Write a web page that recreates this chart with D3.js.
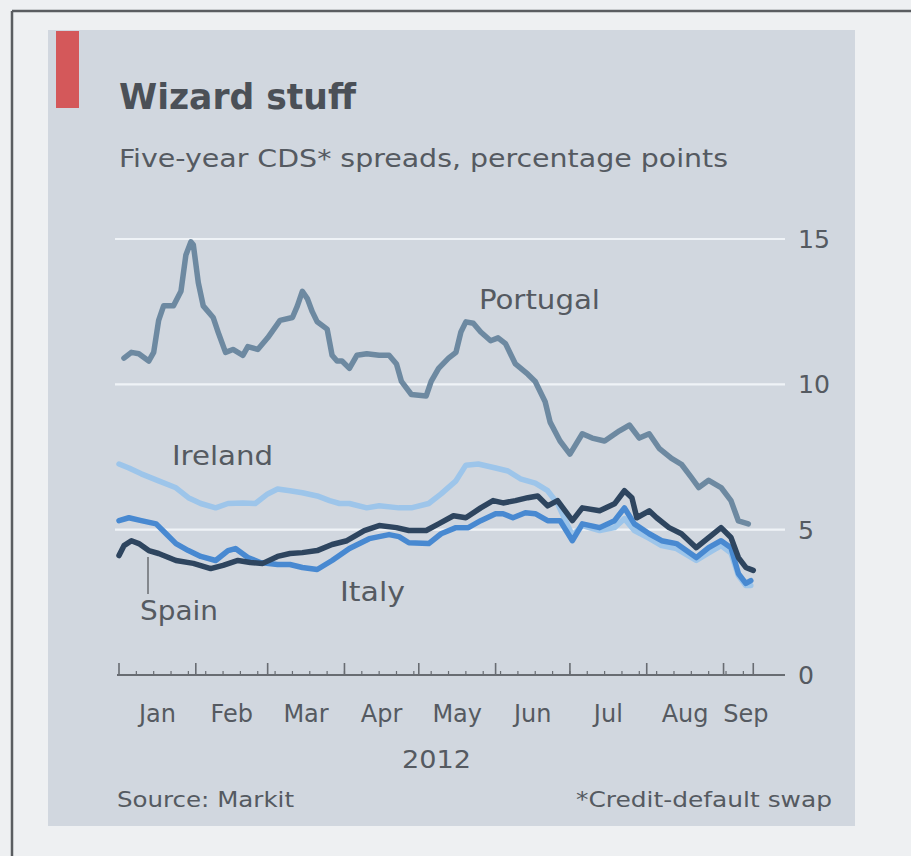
<!DOCTYPE html>
<html>
<head>
<meta charset="utf-8">
<script src="https://cdn.jsdelivr.net/npm/d3@7"></script>
<style>
  html, body { margin: 0; padding: 0; background: #eef0f2; }
  svg { display: block; }
  text { font-family: "DejaVu Sans Condensed", "DejaVu Sans", sans-serif; }
</style>
</head>
<body>
<svg id="chart" width="911" height="856"></svg>
<script>
// ---------- data ----------
const portugal = [
  ["2012-01-03",10.9],["2012-01-06",11.1],["2012-01-09",11.05],["2012-01-13",10.8],["2012-01-15",11.1],
  ["2012-01-17",12.2],["2012-01-19",12.7],["2012-01-23",12.7],["2012-01-26",13.2],["2012-01-28",14.45],
  ["2012-01-30",14.9],["2012-01-31",14.8],["2012-02-02",13.5],["2012-02-04",12.7],["2012-02-08",12.3],
  ["2012-02-10",11.8],["2012-02-13",11.1],["2012-02-16",11.2],["2012-02-20",11.0],["2012-02-22",11.3],
  ["2012-02-26",11.2],["2012-03-01",11.6],["2012-03-06",12.2],["2012-03-11",12.3],["2012-03-13",12.7],
  ["2012-03-15",13.2],["2012-03-17",12.95],["2012-03-19",12.5],["2012-03-21",12.15],["2012-03-25",11.9],
  ["2012-03-27",11.0],["2012-03-29",10.8],["2012-03-31",10.8],["2012-04-03",10.55],["2012-04-06",11.0],
  ["2012-04-10",11.05],["2012-04-15",11.0],["2012-04-19",11.0],["2012-04-22",10.7],["2012-04-24",10.1],
  ["2012-04-28",9.65],["2012-05-04",9.6],["2012-05-06",10.1],["2012-05-09",10.55],["2012-05-13",10.9],
  ["2012-05-16",11.1],["2012-05-18",11.8],["2012-05-20",12.15],["2012-05-23",12.1],["2012-05-26",11.8],
  ["2012-05-30",11.5],["2012-06-02",11.6],["2012-06-05",11.4],["2012-06-09",10.7],["2012-06-14",10.35],
  ["2012-06-17",10.1],["2012-06-21",9.4],["2012-06-23",8.7],["2012-06-27",8.05],["2012-07-01",7.6],
  ["2012-07-06",8.3],["2012-07-10",8.15],["2012-07-15",8.05],["2012-07-21",8.4],["2012-07-25",8.6],
  ["2012-07-29",8.15],["2012-08-02",8.3],["2012-08-06",7.8],["2012-08-11",7.45],["2012-08-15",7.25],
  ["2012-08-19",6.8],["2012-08-22",6.45],["2012-08-26",6.7],["2012-08-31",6.45],["2012-09-04",6.0],
  ["2012-09-07",5.3],["2012-09-11",5.2]
];
const ireland = [
  ["2012-01-01",7.26],["2012-01-05",7.12],["2012-01-10",6.92],["2012-01-17",6.68],["2012-01-24",6.44],
  ["2012-01-29",6.1],["2012-02-03",5.9],["2012-02-09",5.75],["2012-02-14",5.9],["2012-02-20",5.92],
  ["2012-02-25",5.9],["2012-03-01",6.23],["2012-03-05",6.4],["2012-03-10",6.34],["2012-03-15",6.27],
  ["2012-03-21",6.16],["2012-03-26",6.0],["2012-03-30",5.9],["2012-04-03",5.9],["2012-04-10",5.75],
  ["2012-04-15",5.82],["2012-04-23",5.75],["2012-04-28",5.75],["2012-05-05",5.9],["2012-05-10",6.23],
  ["2012-05-16",6.68],["2012-05-20",7.22],["2012-05-25",7.26],["2012-06-01",7.12],["2012-06-06",7.02],
  ["2012-06-11",6.75],["2012-06-17",6.6],["2012-06-22",6.34],["2012-06-26",5.9],["2012-07-02",4.8],
  ["2012-07-06",5.14],["2012-07-13",4.97],["2012-07-19",5.07],["2012-07-23",5.38],["2012-07-27",4.97],
  ["2012-08-02",4.7],["2012-08-07",4.45],["2012-08-13",4.35],["2012-08-21",3.94],["2012-08-26",4.2],
  ["2012-08-31",4.45],["2012-09-04",4.2],["2012-09-07",3.42],["2012-09-10",3.08],["2012-09-12",3.08]
];
const italy = [
  ["2012-01-01",5.31],["2012-01-05",5.41],["2012-01-10",5.31],["2012-01-16",5.2],["2012-01-20",4.86],
  ["2012-01-24",4.52],["2012-01-29",4.28],["2012-02-03",4.08],["2012-02-09",3.94],["2012-02-14",4.28],
  ["2012-02-17",4.35],["2012-02-22",4.04],["2012-02-27",3.87],["2012-03-05",3.8],["2012-03-10",3.8],
  ["2012-03-15",3.7],["2012-03-21",3.63],["2012-03-27",3.94],["2012-04-03",4.35],["2012-04-11",4.69],
  ["2012-04-19",4.83],["2012-04-23",4.76],["2012-04-27",4.55],["2012-05-05",4.52],["2012-05-10",4.86],
  ["2012-05-16",5.07],["2012-05-21",5.07],["2012-05-26",5.31],["2012-06-01",5.55],["2012-06-04",5.55],
  ["2012-06-08",5.41],["2012-06-13",5.58],["2012-06-17",5.55],["2012-06-22",5.31],["2012-06-27",5.31],
  ["2012-07-02",4.62],["2012-07-06",5.2],["2012-07-13",5.07],["2012-07-19",5.31],["2012-07-23",5.75],
  ["2012-07-27",5.2],["2012-08-02",4.86],["2012-08-07",4.62],["2012-08-13",4.52],["2012-08-21",4.04],
  ["2012-08-26",4.38],["2012-08-31",4.62],["2012-09-04",4.38],["2012-09-07",3.49],["2012-09-10",3.15],
  ["2012-09-12",3.25]
];
const spain = [
  ["2012-01-01",4.11],["2012-01-03",4.45],["2012-01-06",4.62],["2012-01-09",4.52],["2012-01-13",4.28],
  ["2012-01-17",4.18],["2012-01-24",3.94],["2012-01-31",3.84],["2012-02-07",3.66],["2012-02-12",3.77],
  ["2012-02-18",3.94],["2012-02-23",3.87],["2012-02-28",3.84],["2012-03-05",4.08],["2012-03-10",4.18],
  ["2012-03-15",4.21],["2012-03-21",4.28],["2012-03-27",4.49],["2012-04-02",4.62],["2012-04-09",4.97],
  ["2012-04-15",5.14],["2012-04-22",5.07],["2012-04-27",4.97],["2012-05-04",4.97],["2012-05-09",5.2],
  ["2012-05-15",5.48],["2012-05-20",5.41],["2012-05-26",5.75],["2012-05-31",6.0],["2012-06-04",5.92],
  ["2012-06-09",6.0],["2012-06-14",6.1],["2012-06-18",6.16],["2012-06-22",5.82],["2012-06-26",6.0],
  ["2012-07-02",5.31],["2012-07-06",5.75],["2012-07-13",5.65],["2012-07-19",5.89],["2012-07-23",6.34],
  ["2012-07-26",6.1],["2012-07-28",5.41],["2012-08-02",5.65],["2012-08-05",5.41],["2012-08-10",5.07],
  ["2012-08-15",4.86],["2012-08-21",4.38],["2012-08-26",4.73],["2012-08-31",5.07],["2012-09-04",4.73],
  ["2012-09-07",4.04],["2012-09-10",3.7],["2012-09-13",3.6]
];
const yTicks = [0, 5, 10, 15];
const monthLabels = ["Jan","Feb","Mar","Apr","May","Jun","Jul","Aug","Sep"];
const yearLabel = "2012";
const titleText = "Wizard stuff";
const subtitleText = "Five-year CDS* spreads, percentage points";
const sourceText = "Source: Markit";
const noteText = "*Credit-default swap";

// ---------- drawing ----------
const parse = d3.timeParse("%Y-%m-%d");
const svg = d3.select("#chart");

// page frame + panel
svg.append("rect").attr("x",0).attr("y",0).attr("width",911).attr("height",856).attr("fill","#eef0f2");
svg.append("rect").attr("x",48).attr("y",30).attr("width",807).attr("height",796).attr("fill","#d1d7df");
svg.append("line").attr("x1",12).attr("x2",911).attr("y1",11).attr("y2",11).attr("stroke","#5a5d61").attr("stroke-width",2.5);
svg.append("line").attr("x1",12).attr("x2",12).attr("y1",11).attr("y2",856).attr("stroke","#5a5d61").attr("stroke-width",2.5);
svg.append("rect").attr("x",56).attr("y",31).attr("width",23).attr("height",77).attr("fill","#d4585a");

const x = d3.scaleTime().domain([parse("2012-01-01"), parse("2012-09-25")]).range([119, 783]);
const y = d3.scaleLinear().domain([0, 15]).range([675, 239]);

const textCol = "#555a61";
function fitText(sel, w){ sel.attr("textLength", w).attr("lengthAdjust","spacingAndGlyphs"); return sel; }

// title / subtitle
fitText(svg.append("text").attr("x",119).attr("y",109).attr("font-size",36).attr("font-weight","bold")
  .attr("fill","#4b5057").text(titleText), 237);
fitText(svg.append("text").attr("x",119).attr("y",167).attr("font-size",25)
  .attr("fill",textCol).text(subtitleText), 609);

// gridlines
svg.append("g").selectAll("line").data(yTicks.filter(d => d > 0)).join("line")
  .attr("x1",115).attr("x2",785).attr("y1",d=>y(d)).attr("y2",d=>y(d))
  .attr("stroke","#eff3f7").attr("stroke-width",2.2);

// y labels
svg.append("g").selectAll("text").data(yTicks).join("text")
  .attr("x",798).attr("y",d=>y(d)+9).attr("font-size",25).attr("fill",textCol)
  .attr("textLength",d=>String(d).length*16).attr("lengthAdjust","spacingAndGlyphs").text(d=>d);

// x axis
svg.append("line").attr("x1",117).attr("x2",785).attr("y1",y(0)).attr("y2",y(0))
  .attr("stroke","#686c72").attr("stroke-width",2.2);
const monthStarts = d3.timeMonth.range(parse("2012-01-01"), parse("2012-09-02"));
const lastDate = parse(spain[spain.length-1][0]);
svg.append("g").selectAll("line").data(monthStarts.concat([lastDate])).join("line")
  .attr("x1",d=>x(d)).attr("x2",d=>x(d)).attr("y1",y(0)).attr("y2",y(0)-12)
  .attr("stroke","#686c72").attr("stroke-width",1.6);
svg.append("g").selectAll("line").data(d3.timeWeek.range(parse("2012-01-02"), lastDate)).join("line")
  .attr("x1",d=>x(d)).attr("x2",d=>x(d)).attr("y1",y(0)).attr("y2",y(0)-4)
  .attr("stroke","#686c72").attr("stroke-width",1.2);

svg.append("g").selectAll("text").data(monthLabels).join("text")
  .attr("x",(d,i)=>{
    const s = monthStarts[i];
    const e = i < 8 ? d3.timeMonth.offset(s,1) : parse("2012-09-19");
    return (x(s)+x(e))/2;
  })
  .attr("y",722).attr("text-anchor","middle").attr("font-size",24)
  .style("font-family","'DejaVu Sans', sans-serif").attr("fill",textCol).text(d=>d);

fitText(svg.append("text").attr("x",402).attr("y",768).attr("font-size",25)
  .attr("fill",textCol).text(yearLabel), 69);

// series
const line = d3.line().x(d=>x(parse(d[0]))).y(d=>y(d[1])).curve(d3.curveLinear);
const series = [
  {data: portugal, color: "#6d89a1", w: 5.5},
  {data: ireland, color: "#9dc5ea", w: 5.5},
  {data: italy, color: "#4889d1", w: 5.5},
  {data: spain, color: "#2e455f", w: 5.5}
];
svg.append("g").selectAll("path").data(series).join("path")
  .attr("d", d=>line(d.data)).attr("fill","none").attr("stroke",d=>d.color)
  .attr("stroke-width",d=>d.w).attr("stroke-linejoin","round").attr("stroke-linecap","round");

// labels
const labels = [
  {t:"Portugal", x:479, y:309, w:121},
  {t:"Ireland", x:172, y:465, w:101},
  {t:"Italy", x:340, y:601, w:65},
  {t:"Spain", x:140, y:620, w:78}
];
labels.forEach(l => fitText(svg.append("text").attr("x",l.x).attr("y",l.y).attr("font-size",27)
  .attr("fill",textCol).text(l.t), l.w));
svg.append("line").attr("x1",148).attr("x2",148).attr("y1",557).attr("y2",594)
  .attr("stroke","#686c72").attr("stroke-width",1.5);

// footer
fitText(svg.append("text").attr("x",117).attr("y",807).attr("font-size",22).attr("fill",textCol).text(sourceText), 177);
fitText(svg.append("text").attr("x",576).attr("y",807).attr("font-size",22).attr("fill",textCol).text(noteText), 256);
</script>
</body>
</html>
